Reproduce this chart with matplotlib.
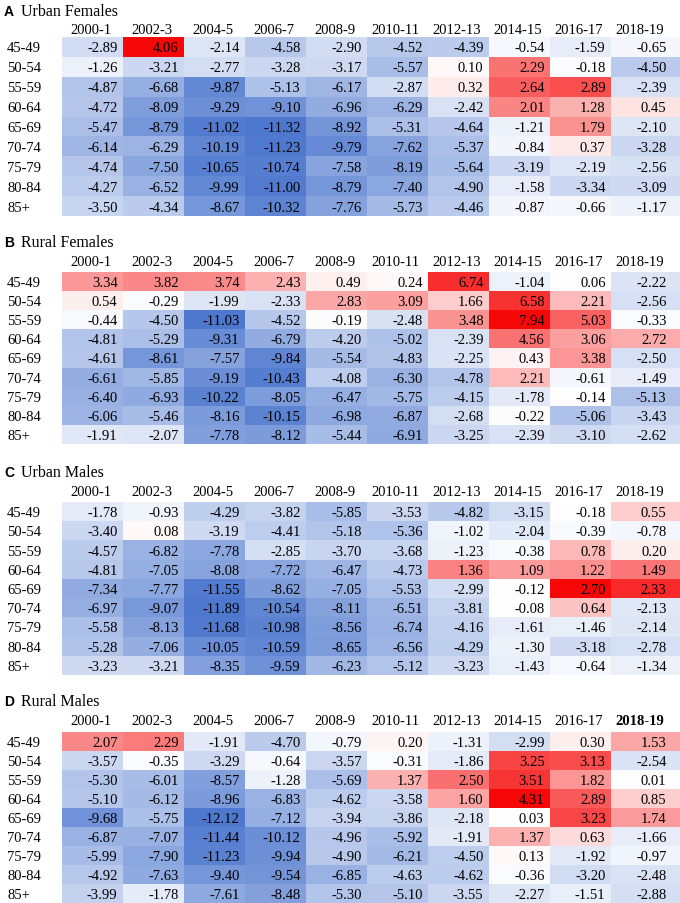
import numpy as np
import matplotlib
matplotlib.use("Agg")
import matplotlib.pyplot as plt
from matplotlib.colors import LinearSegmentedColormap, TwoSlopeNorm

periods = ["2000-1", "2002-3", "2004-5", "2006-7", "2008-9",
           "2010-11", "2012-13", "2014-15", "2016-17", "2018-19"]
ages = ["45-49", "50-54", "55-59", "60-64", "65-69", "70-74", "75-79", "80-84", "85+"]

urban_females = [
    [-2.89, 4.06, -2.14, -4.58, -2.90, -4.52, -4.39, -0.54, -1.59, -0.65],
    [-1.26, -3.21, -2.77, -3.28, -3.17, -5.57, 0.10, 2.29, -0.18, -4.50],
    [-4.87, -6.68, -9.87, -5.13, -6.17, -2.87, 0.32, 2.64, 2.89, -2.39],
    [-4.72, -8.09, -9.29, -9.10, -6.96, -6.29, -2.42, 2.01, 1.28, 0.45],
    [-5.47, -8.79, -11.02, -11.32, -8.92, -5.31, -4.64, -1.21, 1.79, -2.10],
    [-6.14, -6.29, -10.19, -11.23, -9.79, -7.62, -5.37, -0.84, 0.37, -3.28],
    [-4.74, -7.50, -10.65, -10.74, -7.58, -8.19, -5.64, -3.19, -2.19, -2.56],
    [-4.27, -6.52, -9.99, -11.00, -8.79, -7.40, -4.90, -1.58, -3.34, -3.09],
    [-3.50, -4.34, -8.67, -10.32, -7.76, -5.73, -4.46, -0.87, -0.66, -1.17],
]
rural_females = [
    [3.34, 3.82, 3.74, 2.43, 0.49, 0.24, 6.74, -1.04, 0.06, -2.22],
    [0.54, -0.29, -1.99, -2.33, 2.83, 3.09, 1.66, 6.58, 2.21, -2.56],
    [-0.44, -4.50, -11.03, -4.52, -0.19, -2.48, 3.48, 7.94, 5.03, -0.33],
    [-4.81, -5.29, -9.31, -6.79, -4.20, -5.02, -2.39, 4.56, 3.06, 2.72],
    [-4.61, -8.61, -7.57, -9.84, -5.54, -4.83, -2.25, 0.43, 3.38, -2.50],
    [-6.61, -5.85, -9.19, -10.43, -4.08, -6.30, -4.78, 2.21, -0.61, -1.49],
    [-6.40, -6.93, -10.22, -8.05, -6.47, -5.75, -4.15, -1.78, -0.14, -5.13],
    [-6.06, -5.46, -8.16, -10.15, -6.98, -6.87, -2.68, -0.22, -5.06, -3.43],
    [-1.91, -2.07, -7.78, -8.12, -5.44, -6.91, -3.25, -2.39, -3.10, -2.62],
]
urban_males = [
    [-1.78, -0.93, -4.29, -3.82, -5.85, -3.53, -4.82, -3.15, -0.18, 0.55],
    [-3.40, 0.08, -3.19, -4.41, -5.18, -5.36, -1.02, -2.04, -0.39, -0.78],
    [-4.57, -6.82, -7.78, -2.85, -3.70, -3.68, -1.23, -0.38, 0.78, 0.20],
    [-4.81, -7.05, -8.08, -7.72, -6.47, -4.73, 1.36, 1.09, 1.22, 1.49],
    [-7.34, -7.77, -11.55, -8.62, -7.05, -5.53, -2.99, -0.12, 2.70, 2.33],
    [-6.97, -9.07, -11.89, -10.54, -8.11, -6.51, -3.81, -0.08, 0.64, -2.13],
    [-5.58, -8.13, -11.68, -10.98, -8.56, -6.74, -4.16, -1.61, -1.46, -2.14],
    [-5.28, -7.06, -10.05, -10.59, -8.65, -6.56, -4.29, -1.30, -3.18, -2.78],
    [-3.23, -3.21, -8.35, -9.59, -6.23, -5.12, -3.23, -1.43, -0.64, -1.34],
]
rural_males = [
    [2.07, 2.29, -1.91, -4.70, -0.79, 0.20, -1.31, -2.99, 0.30, 1.53],
    [-3.57, -0.35, -3.29, -0.64, -3.57, -0.31, -1.86, 3.25, 3.13, -2.54],
    [-5.30, -6.01, -8.57, -1.28, -5.69, 1.37, 2.50, 3.51, 1.82, 0.01],
    [-5.10, -6.12, -8.96, -6.83, -4.62, -3.58, 1.60, 4.31, 2.89, 0.85],
    [-9.68, -5.75, -12.12, -7.12, -3.94, -3.86, -2.18, 0.03, 3.23, 1.74],
    [-6.87, -7.07, -11.44, -10.12, -4.96, -5.92, -1.91, 1.37, 0.63, -1.66],
    [-5.99, -7.90, -11.23, -9.94, -4.90, -6.21, -4.50, 0.13, -1.92, -0.97],
    [-4.92, -7.63, -9.40, -9.54, -6.85, -4.63, -4.62, -0.36, -3.20, -2.48],
    [-3.99, -1.78, -7.61, -8.48, -5.30, -5.10, -3.55, -2.27, -1.51, -2.88],
]

panels = [("A", "Urban Females", urban_females),
          ("B", "Rural Females", rural_females),
          ("C", "Urban Males", urban_males),
          ("D", "Rural Males", rural_males)]

# pixel layout (title y, header y, cell top, cell bottom)
layout = [(12, 30, 38, 217), (243, 263, 273, 445), (473, 493, 503, 676), (702, 722, 733, 904)]

W, H = 680, 904
cmap = LinearSegmentedColormap.from_list("bwr_xl", ["#4E78CE", "#FFFFFF", "#F70808"])
serif = "Liberation Serif"

fig = plt.figure(figsize=(W / 100, H / 100), dpi=100)
x0, colw = 62, 61
xmax = (W - x0) / colw          # last column runs off the right edge
xedges = np.append(np.arange(10), xmax)

for (letter, name, vals), (ty, hy, top, bot) in zip(panels, layout):
    d = np.array(vals)
    ax = fig.add_axes([x0 / W, 1 - bot / H, (W - x0) / W, (bot - top) / H])
    norm = TwoSlopeNorm(vmin=d.min(), vcenter=0, vmax=d.max())
    ax.pcolormesh(xedges, np.arange(10), d, cmap=cmap, norm=norm)
    ax.set_xlim(0, xmax)
    ax.set_ylim(9, 0)
    ax.axis("off")
    for i in range(9):
        for j in range(10):
            ax.text(j + 0.91, i + 0.55, f"{d[i, j]:.2f}", ha="right", va="center",
                    fontsize=10.5, family=serif)
        fig.text(7 / W, 1 - (top + (bot - top) * (i + 0.55) / 9) / H, ages[i],
                 ha="left", va="center", fontsize=10.5, family=serif)
    for j, p in enumerate(periods):
        bold = letter == "D" and p == "2018-19"
        ax.text(j + 0.47, -(top - hy) * 9 / (bot - top), p, ha="center", va="center",
                fontsize=10.5, family=serif, fontweight="bold" if bold else "normal")
    fig.text(4 / W, 1 - ty / H, letter, ha="left", va="center", fontsize=10,
             fontweight="bold", family="Liberation Sans")
    fig.text(21 / W, 1 - ty / H, name, ha="left", va="center", fontsize=11.5, family=serif)

fig.savefig("out.png", dpi=100)
